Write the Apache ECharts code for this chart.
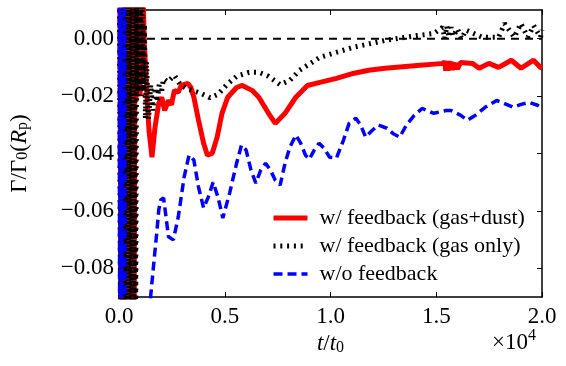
<!DOCTYPE html>
<html>
<head>
<meta charset="utf-8">
<script src="https://cdn.jsdelivr.net/npm/echarts@6/dist/echarts.min.js"></script>
<style>
  html, body { margin: 0; padding: 0; background: #fff; }
  #chart { width: 566px; height: 366px; }
</style>
</head>
<body>
<div id="chart"></div>
<script>
// time in units of 1e4 t0, torque in units of Gamma_0(R_p)
const zeroT = [0, 2.0];
const zeroY = [0, 0];

// w/ feedback (gas+dust)
const redT = [0.004, 0.009, 0.013, 0.018, 0.022, 0.027, 0.031, 0.036, 0.040, 0.045, 0.049, 0.054, 0.058, 0.063, 0.067, 0.072, 0.076,
  0.080, 0.085, 0.090, 0.095, 0.100, 0.105, 0.110, 0.115, 0.120,
  0.124, 0.133, 0.142, 0.156, 0.170, 0.188, 0.202, 0.216, 0.234, 0.248, 0.262, 0.280, 0.294, 0.326, 0.340, 0.354,
  0.376, 0.400, 0.418, 0.441, 0.464, 0.487, 0.514, 0.556, 0.583, 0.629, 0.661, 0.707, 0.739, 0.785, 0.836, 0.891,
  0.950, 1.028, 1.107, 1.180, 1.258, 1.410, 1.534,
  1.540, 1.545, 1.550, 1.555, 1.560, 1.565, 1.570, 1.575, 1.580, 1.585, 1.590, 1.600, 1.615,
  1.671, 1.703, 1.749, 1.795, 1.855, 1.901, 1.960, 1.993, 2.000];
const redY = [0.012, -0.092, 0.012, -0.092, 0.012, -0.092, 0.012, -0.092, 0.012, -0.092, 0.012, -0.092, 0.012, -0.092, 0.012, -0.092, 0.012,
  -0.022, 0.012, -0.018, 0.012, -0.020, 0.012, -0.015, 0.012,
  -0.002, -0.0075, -0.0215, -0.032, -0.0413, -0.031, -0.0225, -0.0204, -0.025, -0.0215, -0.023, -0.018, -0.0187, -0.0163, -0.0156, -0.017, -0.0204,
  -0.0284, -0.0364, -0.0406, -0.0399, -0.0343, -0.026, -0.0204, -0.017, -0.0163, -0.018, -0.0204, -0.026, -0.0295, -0.026, -0.0204, -0.0163,
  -0.0152, -0.0138, -0.0121, -0.011, -0.0103, -0.0093, -0.0086,
  -0.0078, -0.0112, -0.0078, -0.0112, -0.0078, -0.0110, -0.0080, -0.0110, -0.0082, -0.0108, -0.0085, -0.0105, -0.0083,
  -0.0086, -0.0103, -0.0086, -0.0100, -0.0075, -0.0103, -0.0075, -0.0100, -0.0102];

// w/ feedback (gas only)
const blackT = [0.002, 0.007, 0.011, 0.016, 0.020, 0.025, 0.029, 0.034, 0.038, 0.043, 0.047, 0.052, 0.056, 0.061, 0.065, 0.070, 0.074, 0.079,
  0.084, 0.088, 0.093, 0.097, 0.102, 0.106, 0.110, 0.115, 0.120, 0.125, 0.130,
  0.140, 0.150, 0.160, 0.170, 0.180, 0.190, 0.200, 0.210, 0.230, 0.262, 0.290, 0.317, 0.386, 0.431, 0.468, 0.510, 0.556,
  0.615, 0.661, 0.707, 0.762, 0.808, 0.854, 0.950, 1.107, 1.258, 1.410, 1.488,
  1.530, 1.540, 1.550, 1.560, 1.570, 1.580, 1.600, 1.620, 1.640,
  1.717, 1.795, 1.823, 1.869, 1.900, 1.933, 1.960, 1.993, 2.000];
const blackY = [0.0125, -0.09245, 0.0125, -0.09245, 0.0125, -0.09245, 0.0125, -0.09245, 0.0125, -0.09245, 0.0125, -0.09245,
  0.0125, -0.09245, 0.0125, -0.09245, 0.0125, -0.09245,
  0.0125, -0.020, 0.0125, -0.018, 0.0125, -0.020, 0.0125, -0.018, 0.005, -0.028, -0.008,
  -0.028, -0.016, -0.025, -0.017, -0.022, -0.016, -0.019, -0.014, -0.015, -0.0128, -0.016, -0.0173, -0.019, -0.0206, -0.0194, -0.0160, -0.0131,
  -0.0117, -0.0117, -0.0131, -0.0160, -0.0145, -0.0110, -0.0065, -0.0030, -0.0006, 0.0011, 0.0018,
  0.0040, 0.0000, 0.0045, 0.0005, 0.0040, 0.0008, 0.0035, 0.0000, 0.0030,
  0.0005, 0.0005, 0.0053, 0.0005, 0.0053, 0.0005, 0.0046, 0.0005, 0.0030];

// w/o feedback
const blueT = [0.001, 0.003, 0.005, 0.007, 0.009, 0.011, 0.027, 0.029,
  0.143, 0.165, 0.179, 0.188, 0.197, 0.211, 0.234, 0.257, 0.280, 0.308, 0.331, 0.354, 0.376, 0.400, 0.422, 0.445,
  0.468, 0.491, 0.523, 0.556, 0.579, 0.601, 0.624, 0.647, 0.670, 0.693, 0.716, 0.739, 0.762, 0.785, 0.808, 0.836,
  0.859, 0.882, 0.900, 0.923, 0.946, 0.969, 0.996, 1.028, 1.061, 1.088, 1.120, 1.143, 1.166, 1.198, 1.226, 1.267,
  1.295, 1.327, 1.359, 1.396, 1.433, 1.488, 1.547, 1.570, 1.616, 1.648, 1.685, 1.731, 1.786, 1.823, 1.864, 1.901,
  1.938, 1.979, 2.000];
const blueY = [0.012, -0.092, 0.012, -0.092, 0.012, -0.092, 0.012, -0.092,
  -0.095, -0.0778, -0.0673, -0.0597, -0.0562, -0.0555, -0.069, -0.0701, -0.0622, -0.0482, -0.0406, -0.0423, -0.0517, -0.059, -0.0552, -0.050,
  -0.0552, -0.0625, -0.0538, -0.0434, -0.0371, -0.0388, -0.0458, -0.0503, -0.0458, -0.0434, -0.0458, -0.0493, -0.051, -0.0434, -0.0378, -0.0336,
  -0.0364, -0.0406, -0.042, -0.0388, -0.0364, -0.0381, -0.0413, -0.0416, -0.0354, -0.0295, -0.0277, -0.0301, -0.0343, -0.0319, -0.0301, -0.0312,
  -0.033, -0.0343, -0.0301, -0.0267, -0.0243, -0.026, -0.025, -0.025, -0.0267, -0.0284, -0.0267, -0.0239, -0.0215, -0.0226, -0.0239, -0.0229,
  -0.0222, -0.0232, -0.0243];

const yTicks = [0, -0.02, -0.04, -0.06, -0.08];

const pairs = (t, y) => t.map((v, i) => [v, y[i]]);
const serif = 'Liberation Serif';

const chart = echarts.init(document.getElementById('chart'));

const tickStyle = { show: true, inside: true, length: 5, lineStyle: { color: '#000', width: 1 } };
const axisLine = { show: true, onZero: false, lineStyle: { color: '#000', width: 1.5 } };
const mathRich = {
  i: { fontFamily: serif, fontStyle: 'italic', fontSize: 23, color: '#000', verticalAlign: 'bottom', lineHeight: 26 },
  a: { fontFamily: serif, fontSize: 23, color: '#000', verticalAlign: 'bottom', lineHeight: 26 },
  s: { fontFamily: serif, fontSize: 16, color: '#000', verticalAlign: 'bottom', lineHeight: 20 }
};
const noMark = { color: 'rgba(0,0,0,0)', borderColor: 'rgba(0,0,0,0)', borderWidth: 0 };

const option = {
  animation: false,
  backgroundColor: '#fff',
  grid: { left: 106, right: 24, top: 10, bottom: 69 },
  xAxis: [
    {
      type: 'value', min: 0, max: 2.0, interval: 0.5,
      axisLine: axisLine, axisTick: tickStyle, splitLine: { show: false },
      axisLabel: {
        margin: 8, color: '#000', fontFamily: serif, fontSize: 23,
        formatter: v => v.toFixed(1)
      },
      name: '{i|t}{a|/}{i|t}{s|0}', nameLocation: 'middle', nameGap: 30,
      nameTextStyle: { rich: mathRich }
    },
    {
      type: 'value', min: 0, max: 2.0, interval: 0.5, position: 'top',
      axisLine: axisLine, axisTick: tickStyle, axisLabel: { show: false }, splitLine: { show: false }
    }
  ],
  yAxis: [
    {
      type: 'value', min: -0.09, max: 0.01,
      axisLine: axisLine, splitLine: { show: false },
      axisTick: Object.assign({ customValues: yTicks }, tickStyle),
      axisLabel: {
        customValues: yTicks,
        margin: 5, color: '#000', fontFamily: serif, fontSize: 23,
        formatter: v => (v < -1e-9 ? '\u2212' : '') + Math.abs(v).toFixed(2)
      },
      name: '{a|Γ/Γ}{s|0}{a|(}{i|R}{s|p}{a|)}', nameLocation: 'middle', nameGap: 88, nameRotate: 90,
      nameTextStyle: { rich: mathRich }
    },
    {
      type: 'value', min: -0.09, max: 0.01, position: 'right',
      axisLine: axisLine, splitLine: { show: false },
      axisTick: Object.assign({ customValues: yTicks }, tickStyle),
      axisLabel: { show: false }
    }
  ],
  legend: {
    orient: 'vertical', left: 266, top: 202,
    itemWidth: 34, itemHeight: 14, itemGap: 6,
    itemStyle: noMark,
    textStyle: { fontFamily: serif, fontSize: 22, color: '#000', lineHeight: 22, padding: [0, 0, 0, 7] },
    data: [
      { name: 'w/ feedback (gas+dust)', lineStyle: { width: 5 } },
      { name: 'w/ feedback (gas only)', lineStyle: { width: 5 } },
      { name: 'w/o feedback', lineStyle: { width: 3.5 } }
    ]
  },
  graphic: [
    {
      type: 'text', left: 492, top: 328,
      style: {
        text: '{a|×10}{s|4}',
        rich: {
          a: { fontFamily: serif, fontSize: 23, fill: '#000', verticalAlign: 'bottom', lineHeight: 26 },
          s: { fontFamily: serif, fontSize: 16, fill: '#000', verticalAlign: 'top', lineHeight: 26 }
        }
      }
    }
  ],
  series: [
    {
      name: 'zero', type: 'line', data: pairs(zeroT, zeroY), symbol: 'none',
      lineStyle: { color: '#000', width: 2, type: [8, 6] }, silent: true, z: 1
    },
    {
      name: 'w/ feedback (gas+dust)', type: 'line', data: pairs(redT, redY), symbol: 'none',
      lineStyle: { color: '#ff0000', width: 5 }, itemStyle: { color: '#ff0000' }, z: 2
    },
    {
      name: 'w/ feedback (gas only)', type: 'line', data: pairs(blackT, blackY), symbol: 'none',
      lineStyle: { color: '#000', width: 5, type: [2, 4.8] }, itemStyle: { color: '#000' }, z: 3
    },
    {
      name: 'w/o feedback', type: 'line', data: pairs(blueT, blueY), symbol: 'none',
      lineStyle: { color: '#0000ff', width: 3.5, type: [9, 5] }, itemStyle: { color: '#0000ff' }, z: 4
    }
  ]
};

chart.setOption(option);
</script>
</body>
</html>
